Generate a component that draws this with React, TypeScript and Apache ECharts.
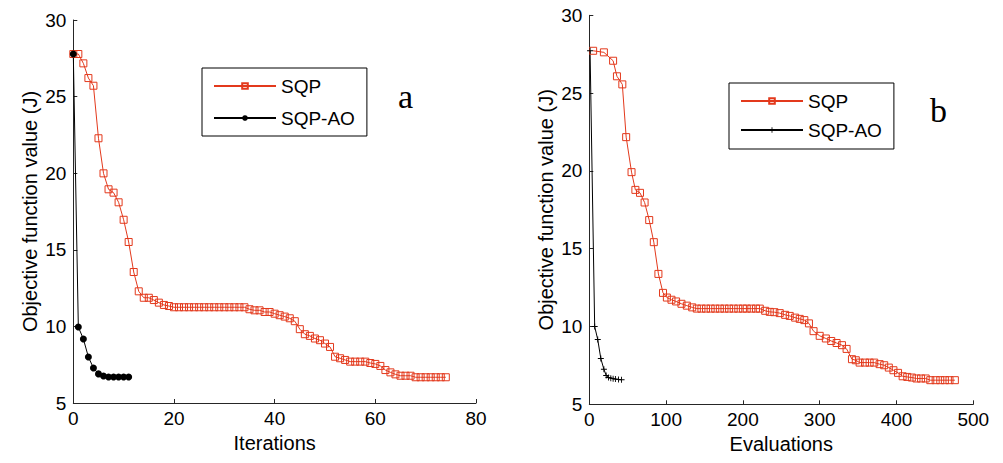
import React, { useEffect, useRef } from "react";
import * as echarts from "echarts";

// ---- Panel a: objective vs iterations ----
const iterSQP = [
  27.78, 27.78, 27.17, 26.21, 25.71, 22.28, 19.99, 18.95, 18.73, 18.1,
  16.96, 15.51, 13.55, 12.29, 11.87, 11.87, 11.72, 11.55, 11.4, 11.33,
  11.25, 11.25, 11.25, 11.25, 11.25, 11.25, 11.25, 11.25, 11.25, 11.25,
  11.25, 11.25, 11.25, 11.25, 11.25,
  11.12, 11.05, 11.05, 10.94, 10.94, 10.83, 10.73, 10.64, 10.53, 10.34,
  9.82, 9.49, 9.38, 9.21, 9.1, 8.88, 8.66, 8.02, 7.92, 7.81,
  7.7, 7.7, 7.7, 7.7, 7.61, 7.55, 7.42, 7.15, 7.0, 6.87,
  6.78, 6.78, 6.78,
  6.68, 6.68, 6.68, 6.68, 6.68, 6.68, 6.68,
];
const iterAO = [27.78, 9.96, 9.18, 8.0, 7.29, 6.9, 6.76, 6.7, 6.7, 6.7, 6.7, 6.7];

// ---- Panel b: objective vs function evaluations ----
const evalSQPx = [
  5, 19, 31, 36, 43, 48, 55, 60, 66, 72,
  78, 84, 90, 96, 101, 107, 113, 120, 127, 134,
  140, 146, 152, 158, 164, 170, 176, 182, 188, 194,
  200, 205, 211, 217, 222,
  229, 235, 241, 248, 255, 261, 268, 274, 280, 286,
  292, 300, 308, 315, 322, 329, 335, 342, 347, 352,
  359, 365, 371, 378, 384, 390, 396, 402, 408, 414,
  420, 426, 432, 438,
  444, 451, 457, 463, 469, 476,
];
const evalSQPy = [
  27.72, 27.62, 27.08, 26.08, 25.56, 22.17, 19.92, 18.78, 18.59, 17.97,
  16.84, 15.42, 13.38, 12.16, 11.86, 11.72, 11.61, 11.46, 11.34, 11.23,
  11.15, 11.15, 11.15, 11.15, 11.15, 11.15, 11.15, 11.15, 11.15, 11.15,
  11.15, 11.15, 11.15, 11.15, 11.15,
  11.01, 10.94, 10.92, 10.86, 10.75, 10.68, 10.57, 10.49, 10.41, 10.2,
  9.7, 9.4, 9.23, 9.07, 8.94, 8.8, 8.56, 7.9, 7.83, 7.68,
  7.68, 7.68, 7.68, 7.58, 7.51, 7.36, 7.19, 7.02, 6.8, 6.76,
  6.72, 6.66, 6.66, 6.66,
  6.55, 6.55, 6.55, 6.55, 6.55, 6.55,
];
const evalAOx = [1, 7, 11, 15, 19, 22, 25, 28, 31, 34, 38, 42];
const evalAOy = [27.72, 10.0, 9.16, 7.94, 7.25, 6.85, 6.72, 6.68, 6.65, 6.62, 6.6, 6.58];

const RED = "#e3391c";
const FONT = "'Liberation Sans', Arial, sans-serif";
const AXIS = "#262626";
const PLUS =
  "path://M-0.6,-4L0.6,-4L0.6,-0.6L4,-0.6L4,0.6L0.6,0.6L0.6,4L-0.6,4L-0.6,0.6L-4,0.6L-4,-0.6L-0.6,-0.6Z";

const axisCommon = {
  axisLine: { show: true, lineStyle: { color: AXIS, width: 1 } },
  axisTick: { show: true, inside: true, length: 4, lineStyle: { color: AXIS } },
  splitLine: { show: false },
  nameLocation: "middle" as const,
  nameTextStyle: { color: "#000", fontSize: 20, fontFamily: FONT },
};

export default function App() {
  const ref = useRef<HTMLDivElement>(null);
  useEffect(() => {
    const chart = echarts.init(ref.current!, null, { renderer: "svg" });
    const sqpStyle = {
      type: "line",
      symbol: "rect",
      symbolSize: 7,
      color: RED,
      lineStyle: { color: RED, width: 1 },
      itemStyle: { color: "rgba(255,255,255,0)", borderColor: RED, borderWidth: 1 },
      silent: true,
      emphasis: { disabled: true },
    };
    const legendCommon = {
      orient: "vertical",
      itemWidth: 62,
      itemHeight: 7,
      borderColor: "#000",
      borderWidth: 1,
      backgroundColor: "#fff",
      selectedMode: false,
      textStyle: { fontSize: 19, fontFamily: FONT, color: "#000", lineHeight: 22 },
    };
    chart.setOption({
      animation: false,
      backgroundColor: "#fff",
      grid: [
        { left: 73.3, top: 20, width: 402.7, height: 383 },
        { left: 589.3, top: 15.3, width: 384, height: 389 },
      ],
      xAxis: [
        {
          ...axisCommon,
          type: "value",
          gridIndex: 0,
          min: 0,
          max: 80,
          interval: 20,
          name: "Iterations",
          nameGap: 24,
          axisLabel: { color: "#000", fontSize: 19, fontFamily: FONT, margin: 6 },
        },
        {
          ...axisCommon,
          type: "value",
          gridIndex: 1,
          min: 0,
          max: 500,
          interval: 100,
          name: "Evaluations",
          nameGap: 27,
          axisLabel: { color: "#000", fontSize: 19, fontFamily: FONT, margin: 6 },
        },
      ],
      yAxis: [
        {
          ...axisCommon,
          type: "value",
          gridIndex: 0,
          min: 5,
          max: 30,
          interval: 5,
          name: "Objective function value (J)",
          nameGap: 33,
          axisLabel: { color: "#000", fontSize: 19, fontFamily: FONT, margin: 7 },
        },
        {
          ...axisCommon,
          type: "value",
          gridIndex: 1,
          min: 5,
          max: 30,
          interval: 5,
          name: "Objective function value (J)",
          nameGap: 33,
          axisLabel: { color: "#000", fontSize: 19, fontFamily: FONT, margin: 7 },
        },
      ],
      legend: [
        {
          ...legendCommon,
          data: ["SQP", "SQP-AO"],
          left: 202,
          top: 68,
          padding: [7, 12, 7, 11],
          itemGap: 10,
        },
        {
          ...legendCommon,
          data: ["SQP_b", "SQP-AO_b"],
          left: 729,
          top: 83,
          padding: [7, 12, 8, 11],
          itemGap: 7,
          formatter: (n: string) => n.replace("_b", ""),
        },
      ],
      series: [
        {
          ...sqpStyle,
          name: "SQP",
          xAxisIndex: 0,
          yAxisIndex: 0,
          data: iterSQP.map((v, i) => [i, v]),
        },
        {
          type: "line",
          name: "SQP-AO",
          xAxisIndex: 0,
          yAxisIndex: 0,
          symbol: "circle",
          symbolSize: 7,
          color: "#000",
          lineStyle: { color: "#000", width: 1 },
          itemStyle: { color: "#000" },
          silent: true,
          emphasis: { disabled: true },
          data: iterAO.map((v, i) => [i, v]),
        },
        {
          ...sqpStyle,
          name: "SQP_b",
          xAxisIndex: 1,
          yAxisIndex: 1,
          data: evalSQPx.map((x, i) => [x, evalSQPy[i]]),
        },
        {
          type: "line",
          name: "SQP-AO_b",
          xAxisIndex: 1,
          yAxisIndex: 1,
          symbol: PLUS,
          symbolSize: 6,
          color: "#000",
          lineStyle: { color: "#000", width: 1 },
          itemStyle: { color: "#000" },
          silent: true,
          emphasis: { disabled: true },
          data: evalAOx.map((x, i) => [x, evalAOy[i]]),
        },
      ],
      graphic: [
        {
          type: "text",
          left: 398,
          top: 79,
          style: { text: "a", fontSize: 34, fontFamily: "'Liberation Serif', 'Times New Roman', serif", fill: "#000" },
        },
        {
          type: "text",
          left: 930,
          top: 93,
          style: { text: "b", fontSize: 34, fontFamily: "'Liberation Serif', 'Times New Roman', serif", fill: "#000" },
        },
      ],
    });
    return () => chart.dispose();
  }, []);
  return (
    <div
      ref={ref}
      style={{ position: "absolute", left: 0, top: 0, width: 1003, height: 463, background: "#fff" }}
    />
  );
}
